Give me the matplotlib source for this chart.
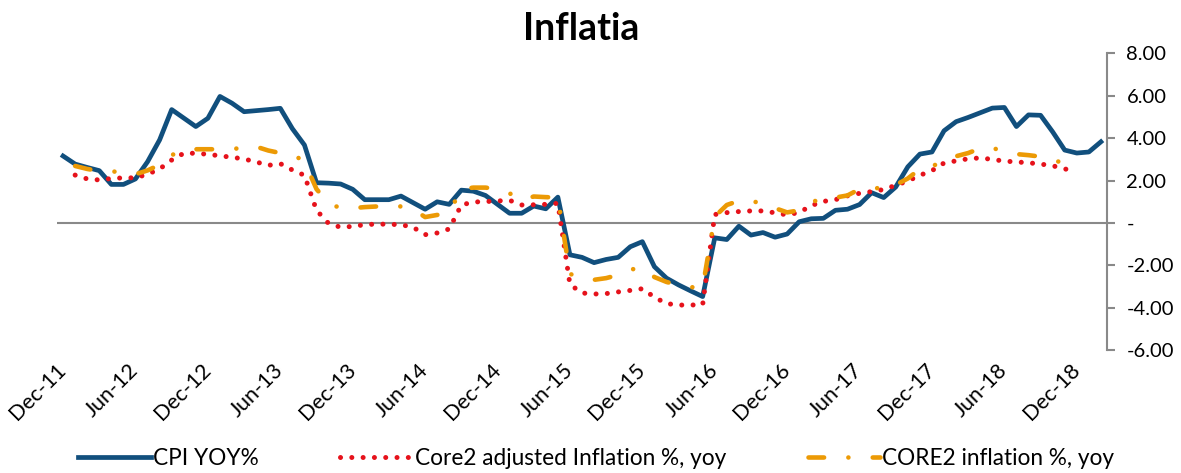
import numpy as np
import matplotlib
matplotlib.use('Agg')
import matplotlib.pyplot as plt

plt.rcParams['font.family'] = ['Lato', 'DejaVu Sans']

# Monthly data, Dec-11 .. Feb-19
tick_labels = ['Dec-11', 'Jun-12', 'Dec-12', 'Jun-13', 'Dec-13', 'Jun-14', 'Dec-14', 'Jun-15',
               'Dec-15', 'Jun-16', 'Dec-16', 'Jun-17', 'Dec-17', 'Jun-18', 'Dec-18']

cpi_yoy = [3.16, 2.78, 2.62, 2.47, 1.82, 1.82, 2.08, 2.89, 3.92, 5.35,
           4.95, 4.55, 4.94, 5.97, 5.65, 5.25, 5.30, 5.35, 5.41, 4.45,
           3.68, 1.90, 1.88, 1.84, 1.59, 1.10, 1.10, 1.10, 1.27, 0.96,
           0.65, 1.00, 0.88, 1.55, 1.50, 1.30, 0.88, 0.46, 0.46, 0.80,
           0.67, 1.22, -1.50, -1.62, -1.87, -1.72, -1.62, -1.12, -0.88, -2.06,
           -2.60, -2.92, -3.20, -3.47, -0.70, -0.78, -0.15, -0.57, -0.45, -0.67,
           -0.52, 0.06, 0.20, 0.22, 0.60, 0.65, 0.87, 1.43, 1.20, 1.70,
           2.65, 3.25, 3.35, 4.35, 4.78, 4.98, 5.20, 5.42, 5.45, 4.55,
           5.10, 5.08, 4.30, 3.44, 3.30, 3.35, 3.83]

# core series start Jan-12 and stop Dec-18
core2_adj = [np.nan,
             2.26, 2.08, 2.03, 2.10, 2.13, 2.13, 2.30, 2.55, 2.97, 3.29,
             3.29, 3.24, 3.17, 3.10, 3.02, 2.88, 2.72, 2.80, 2.50, 2.25,
             0.60, -0.02, -0.20, -0.16, -0.08, -0.05, -0.06, -0.08, -0.20, -0.55,
             -0.47, -0.28, 0.85, 0.99, 1.01, 1.04, 1.07, 0.85, 0.86, 0.88,
             0.93, -2.90, -3.30, -3.35, -3.33, -3.25, -3.18, -3.10, -3.50, -3.80,
             -3.87, -3.87, -3.85, 0.40, 0.49, 0.54, 0.57, 0.57, 0.48, 0.38,
             0.50, 0.82, 1.02, 1.10, 1.28, 1.40, 1.48, 1.58, 1.78, 1.98,
             2.25, 2.47, 2.83, 2.93, 3.03, 3.07, 3.00, 2.92, 2.88, 2.84,
             2.78, 2.70, 2.55, 2.45,
             np.nan, np.nan]

core2 = [np.nan,
         2.69, 2.55, 2.45, 2.45, 2.35, 2.30, 2.48, 2.75, 3.20, 3.45,
         3.48, 3.48, 3.48, 3.49, 3.55, 3.60, 3.42, 3.30, 3.24, 2.90,
         1.60, 0.93, 0.70, 0.70, 0.75, 0.78, 0.82, 0.78, 0.65, 0.28,
         0.38, 0.50, 1.60, 1.67, 1.67, 1.60, 1.40, 1.08, 1.25, 1.22,
         1.20, -2.40, -2.60, -2.68, -2.60, -2.45, -2.20, -2.10, -2.55, -2.78,
         -2.93, -3.03, -3.03, 0.30, 0.85, 1.05, 1.05, 0.90, 0.70, 0.50,
         0.60, 1.00, 1.12, 1.20, 1.30, 1.60, 1.68, 1.60, 1.80, 2.10,
         2.55, 2.65, 3.00, 3.15, 3.30, 3.52, 3.55, 3.35, 3.25, 3.20,
         3.13, 3.03, 2.75, 2.70,
         np.nan, np.nan]

x = np.arange(len(cpi_yoy))

fig = plt.figure(figsize=(11.81, 4.73), dpi=100)
ax = fig.add_axes([0.0483, 0.2596, 0.889, 0.6275])

ax.plot(x, cpi_yoy, color='#114F7D', lw=3.4, solid_joinstyle='round',
        label='CPI YOY%', zorder=3)
ax.plot(x, core2_adj, color='#E6121B', lw=3.6, dash_capstyle='round',
        linestyle=(0, (0.01, 2.25)), label='Core2 adjusted Inflation %, yoy', zorder=4)
ax.plot(x, core2, color='#EC9A05', lw=3.3, dash_capstyle='round',
        linestyle=(0, (3.4, 5.3, 0.01, 5.3)), label='CORE2 inflation %, yoy', zorder=5)

# zero line acts as the category axis
ax.axhline(0, color='#898989', lw=1.5, zorder=2)

ax.set_xlim(-0.5, len(x) - 0.5)
ax.set_ylim(-6, 8)

for s in ['top', 'bottom', 'left']:
    ax.spines[s].set_visible(False)
ax.spines['right'].set_color('#898989')
ax.spines['right'].set_linewidth(1.5)

ax.yaxis.tick_right()
yt = np.arange(-6, 9, 2)
ax.set_yticks(yt)
ax.set_yticklabels(['-' if v == 0 else f'{v:.2f}' for v in yt], fontsize=14.5)
ax.tick_params(axis='y', direction='out', length=6, width=1.5, color='#898989', pad=8)

ax.set_xticks(x[::6])
ax.set_xticklabels(tick_labels, rotation=45, ha='right', va='center',
                   rotation_mode='anchor', fontsize=15.5)
ax.tick_params(axis='x', length=0, pad=12)

fig.suptitle('Inflatia', fontsize=27, fontweight='bold', x=0.492, y=0.975)

fig.legend(loc='lower center', bbox_to_anchor=(0.505, -0.035), ncol=3, frameon=False,
           fontsize=16.3, handlelength=3.2, handletextpad=0.1, columnspacing=3.6)

fig.savefig('out.png', dpi=100)
